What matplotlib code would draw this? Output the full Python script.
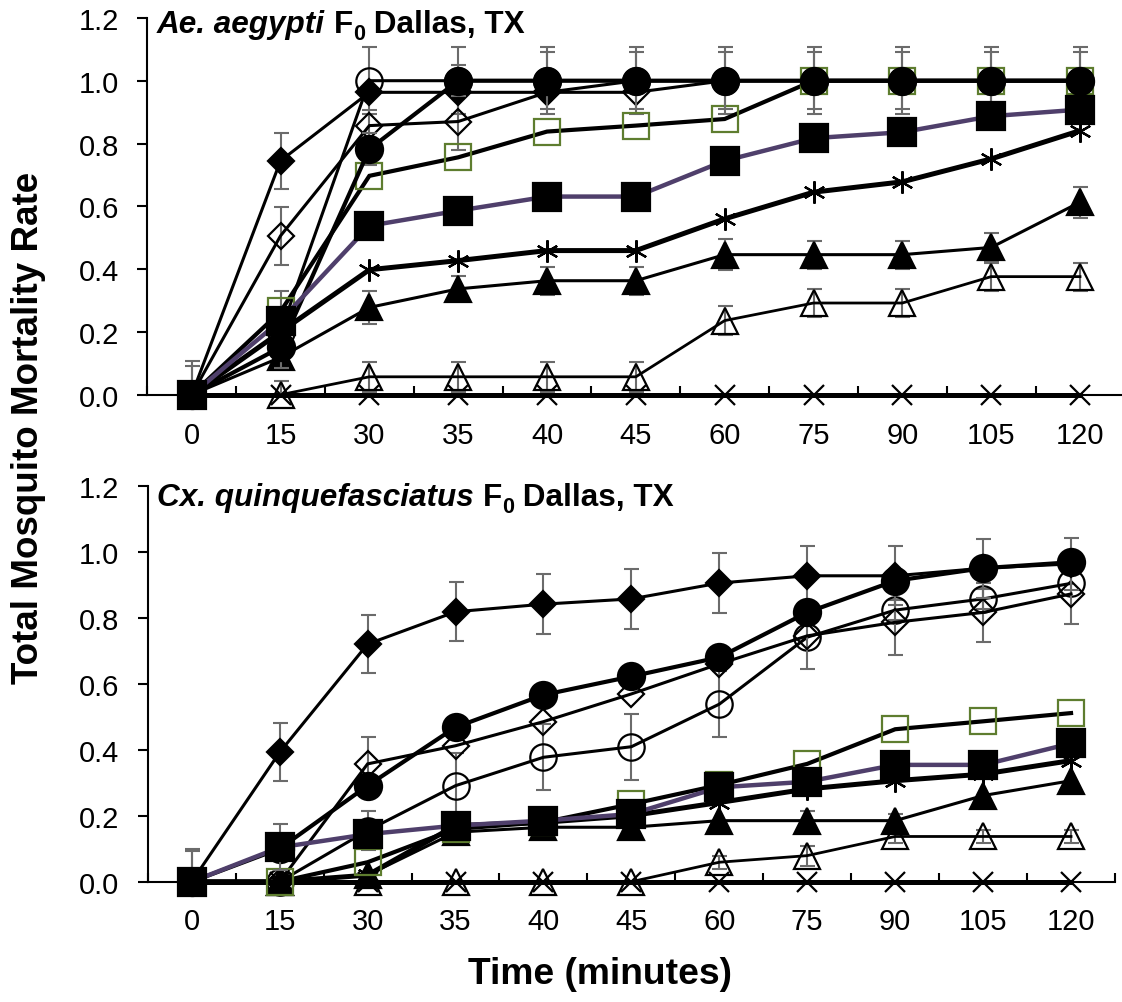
import numpy as np
import matplotlib
matplotlib.use('Agg')
import matplotlib.pyplot as plt

plt.rcParams['font.family'] = ['Liberation Sans', 'DejaVu Sans']

# time points (minutes), plotted as categories
times = ['0', '15', '30', '35', '40', '45', '60', '75', '90', '105', '120']

# Ae. aegypti
ae_fdiam = [0, 0.745, 0.963, 0.963, 0.963, 1.0, 1.0, 1.0, 1.0, 1.0, 1.0]
ae_odiam = [0, 0.506, 0.857, 0.87, 0.963, 0.963, 1.0, 1.0, 1.0, 1.0, 1.0]
ae_ocirc = [0, 0.2, 1.0, 1.0, 1.0, 1.0, 1.0, 1.0, 1.0, 1.0, 1.0]
ae_fcirc = [0, 0.151, 0.782, 1.0, 1.0, 1.0, 1.0, 1.0, 1.0, 1.0, 1.0]
ae_osq = [0, 0.265, 0.697, 0.756, 0.838, 0.857, 0.878, 1.0, 1.0, 1.0, 1.0]
ae_fsq = [0, 0.236, 0.538, 0.586, 0.631, 0.631, 0.745, 0.817, 0.836, 0.887, 0.908]
ae_ast = [0, 0.2, 0.398, 0.427, 0.459, 0.459, 0.56, 0.645, 0.678, 0.751, 0.841]
ae_ftri = [0, 0.119, 0.278, 0.337, 0.363, 0.363, 0.446, 0.446, 0.446, 0.469, 0.613]
ae_otri = [0, 0, 0.057, 0.057, 0.057, 0.057, 0.236, 0.292, 0.292, 0.376, 0.376]
ae_x = [0, 0, 0, 0, 0, 0, 0, 0, 0, 0, 0]

ae_fdiam_err = [0, 0.09, 0, 0, 0, 0, 0, 0, 0, 0, 0]
ae_odiam_err = [0, 0.093, 0.05, 0.09, 0, 0, 0, 0, 0, 0, 0]
ae_ocirc_err = [0.108, 0, 0.106, 0.106, 0.106, 0.106, 0.106, 0.106, 0.106, 0.106, 0.106]
ae_fcirc_err = [0.092, 0.065, 0.05, 0.05, 0.09, 0.09, 0.09, 0.09, 0.09, 0.09, 0.09]
ae_osq_err = [0, 0.065, 0, 0, 0, 0, 0, 0, 0, 0, 0]
ae_ftri_err = [0, 0.03, 0.053, 0.04, 0.045, 0.045, 0.05, 0.045, 0.045, 0.045, 0.05]
ae_otri_err = [0, 0.045, 0.047, 0.047, 0.047, 0.047, 0.045, 0.045, 0.045, 0.045, 0.045]

# Cx. quinquefasciatus
cx_fdiam = [0, 0.392, 0.72, 0.818, 0.841, 0.857, 0.905, 0.927, 0.927, 0.95, 0.963]
cx_odiam = [0, 0, 0.357, 0.412, 0.485, 0.569, 0.66, 0.745, 0.786, 0.816, 0.872]
cx_ocirc = [0, 0, 0.155, 0.291, 0.377, 0.409, 0.538, 0.741, 0.823, 0.857, 0.904]
cx_fcirc = [0, 0.1, 0.291, 0.468, 0.566, 0.622, 0.68, 0.816, 0.912, 0.95, 0.968]
cx_osq = [0, 0, 0.059, 0.16, 0.18, 0.235, 0.293, 0.357, 0.462, 0.486, 0.511]
cx_fsq = [0, 0.104, 0.144, 0.17, 0.185, 0.205, 0.286, 0.303, 0.354, 0.354, 0.419]
cx_ast = [0, 0, 0.02, 0.17, 0.18, 0.2, 0.24, 0.281, 0.306, 0.326, 0.367]
cx_ftri = [0, 0, 0.02, 0.15, 0.165, 0.165, 0.185, 0.185, 0.185, 0.261, 0.306]
cx_otri = [0, 0, 0, 0, 0, 0, 0.059, 0.079, 0.137, 0.137, 0.137]
cx_x = [0, 0, 0, 0, 0, 0, 0, 0, 0, 0, 0]

cx_fdiam_err = [0.1, 0.088, 0.088, 0.09, 0.09, 0.09, 0.09, 0.09, 0.09, 0.09, 0.08]
cx_odiam_err = [0, 0, 0.08, 0, 0, 0, 0, 0.1, 0.1, 0.09, 0.09]
cx_ocirc_err = [0.094, 0, 0.06, 0.1, 0.1, 0.1, 0.1, 0, 0.03, 0.03, 0]
cx_fsq_err = [0, 0.07, 0, 0, 0, 0, 0, 0, 0, 0, 0]
cx_ftri_err = [0, 0, 0, 0, 0, 0, 0, 0.03, 0.02, 0, 0]
cx_otri_err = [0, 0, 0, 0, 0, 0, 0.02, 0.03, 0.02, 0.02, 0.02]

GREEN = '#5e7d2f'
PURPLE = '#4f3f6b'
GRAY = '#6b6b6b'
ASTER = (6, 2, 0)

# series styles: (marker, size, facecolor, edgecolor, line color, line width)
styles = {
    'x': ('x', 15, 'none', 'black', 'black', 3.6),
    'otri': ('^', 19, 'none', 'black', 'black', 2.0),
    'ftri': ('^', 19, 'black', 'black', 'black', 2.2),
    'ast': (ASTER, 16, 'none', 'black', 'black', 3.6),
    'ocirc': ('o', 19, 'none', 'black', 'black', 2.2),
    'odiam': ('D', 13.5, 'none', 'black', 'black', 2.2),
    'fdiam': ('D', 13.5, 'black', 'black', 'black', 2.2),
    'osq': ('s', 19, 'none', GREEN, 'black', 3.0),
    'fcirc': ('o', 19.5, 'black', 'black', 'black', 3.0),
    'fsq': ('s', 19.5, 'black', 'black', PURPLE, 3.2),
}

xpos = np.arange(len(times))


def draw_series(ax, key, y, err, z):
    marker, ms, mfc, mec, lc, lw = styles[key]
    if err is not None:
        e = np.array(err)
        yy = np.array(y)
        m = e > 0
        if m.any():
            ax.errorbar(xpos[m], yy[m], yerr=e[m], fmt='none', ecolor=GRAY,
                        elinewidth=1.5, capsize=5.4, capthick=1.5, zorder=z)
    ax.plot(xpos, y, color=lc, lw=lw, marker=marker, ms=ms, mfc=mfc, mec=mec,
            mew=1.6, zorder=z + 0.5, clip_on=False, solid_joinstyle='miter')


def style_axes(ax, xpad):
    ax.set_xlim(-0.5, 10.5)
    ax.set_ylim(0, 1.2)
    ax.set_xticks(xpos)
    ax.set_xticklabels(times)
    ax.set_xticks(np.arange(-0.5, 11, 1), minor=True)
    ax.set_yticks(np.arange(0, 1.21, 0.2))
    ax.set_yticklabels([f'{v:.1f}' for v in np.arange(0, 1.21, 0.2)])
    ax.tick_params(axis='x', which='major', length=0, pad=xpad, labelsize=21)
    ax.tick_params(axis='x', which='minor', direction='in', length=6.5, width=1.5)
    ax.tick_params(axis='y', direction='out', length=7, width=1.5, pad=13.5,
                   labelsize=21)
    for s in ['top', 'right']:
        ax.spines[s].set_visible(False)
    for s in ['left', 'bottom']:
        ax.spines[s].set_linewidth(1.5)


W, H = 1122, 1003
fig = plt.figure(figsize=(W / 100, H / 100), dpi=100)

ax1 = fig.add_axes([147.3 / W, 1 - 395.7 / H, (1124.4 - 147.3) / W, (395.7 - 18.9) / H])
ax2 = fig.add_axes([147.75 / W, 1 - 882.7 / H, (1115 - 147.75) / W, (882.7 - 486.7) / H])

top = [('x', ae_x, None), ('otri', ae_otri, ae_otri_err), ('ftri', ae_ftri, ae_ftri_err),
       ('ast', ae_ast, None), ('ocirc', ae_ocirc, ae_ocirc_err),
       ('odiam', ae_odiam, ae_odiam_err), ('fdiam', ae_fdiam, ae_fdiam_err),
       ('osq', ae_osq, ae_osq_err), ('fcirc', ae_fcirc, ae_fcirc_err), ('fsq', ae_fsq, None)]
bottom = [('x', cx_x, None), ('otri', cx_otri, cx_otri_err), ('ftri', cx_ftri, cx_ftri_err),
          ('ast', cx_ast, None), ('ocirc', cx_ocirc, cx_ocirc_err),
          ('odiam', cx_odiam, cx_odiam_err), ('fdiam', cx_fdiam, cx_fdiam_err),
          ('osq', cx_osq, None), ('fcirc', cx_fcirc, None), ('fsq', cx_fsq, cx_fsq_err)]

for i, (k, y, e) in enumerate(top):
    draw_series(ax1, k, y, e, 3 + i)
for i, (k, y, e) in enumerate(bottom):
    draw_series(ax2, k, y, e, 3 + i)

style_axes(ax1, 19)
style_axes(ax2, 18)

renderer = fig.canvas.get_renderer()


def panel_title(x_px, base_px, species):
    # species in bold italic, then F with subscript 0, then location
    parts = [(species + ' ', 'italic', 22.7, 0), ('F', 'normal', 22.7, 0),
             ('0', 'normal', 15.5, -7), (' Dallas, TX', 'normal', 22.7, 0)]
    x = x_px
    for s, st, sz, dy in parts:
        t = fig.text(x / W, 1 - (base_px - dy) / H, s, fontsize=sz, fontweight='bold',
                     fontstyle=st, ha='left', va='baseline')
        bb = t.get_window_extent(renderer=renderer)
        x += bb.width


panel_title(157, 33, 'Ae. aegypti')
panel_title(157, 506, 'Cx. quinquefasciatus')

fig.text(29 / W, 1 - 428 / H, 'Total Mosquito Mortality Rate', rotation=90,
         fontsize=26.5, fontweight='bold', ha='center', va='center')
fig.text(600 / W, 1 - 975 / H, 'Time (minutes)', fontsize=26.8, fontweight='bold',
         ha='center', va='center')

fig.savefig('out.png', dpi=100)
